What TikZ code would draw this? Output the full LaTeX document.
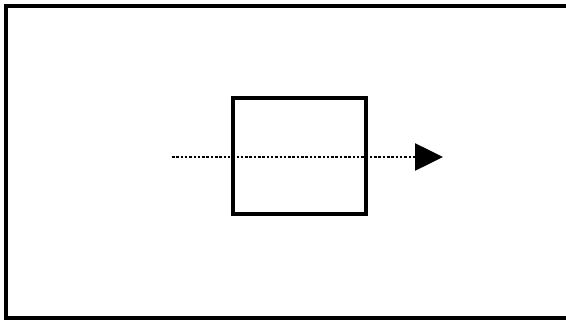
\documentclass[tikz,border=0pt]{standalone}
\usepackage{tikz}
\usetikzlibrary{
  arrows.meta,
  positioning
}

\begin{document}
\begin{tikzpicture}[x=1pt, y=-1pt,
            frame/.style={draw=black, line width=3.2pt},
            squarebox/.style={rectangle, draw=black, line width=4.5pt, minimum width=133pt, minimum height=116pt},
            flow/.style={draw=black, line width=2.6pt, dash pattern=on 2.5pt off 1.8pt, -{Triangle[length=28pt, width=27pt]}}]
            \useasboundingbox (0,0) rectangle (566,321);
            \draw [frame] (566,6) -- (6,6) -- (6,318) -- (566,318);
            \node [squarebox] (sq) at (299.5,156) {};
            \coordinate (start) at (172,157);
            \coordinate (tip) at (443,157);
            \draw [flow] (start) -- (tip);
        \end{tikzpicture}
\end{document}
